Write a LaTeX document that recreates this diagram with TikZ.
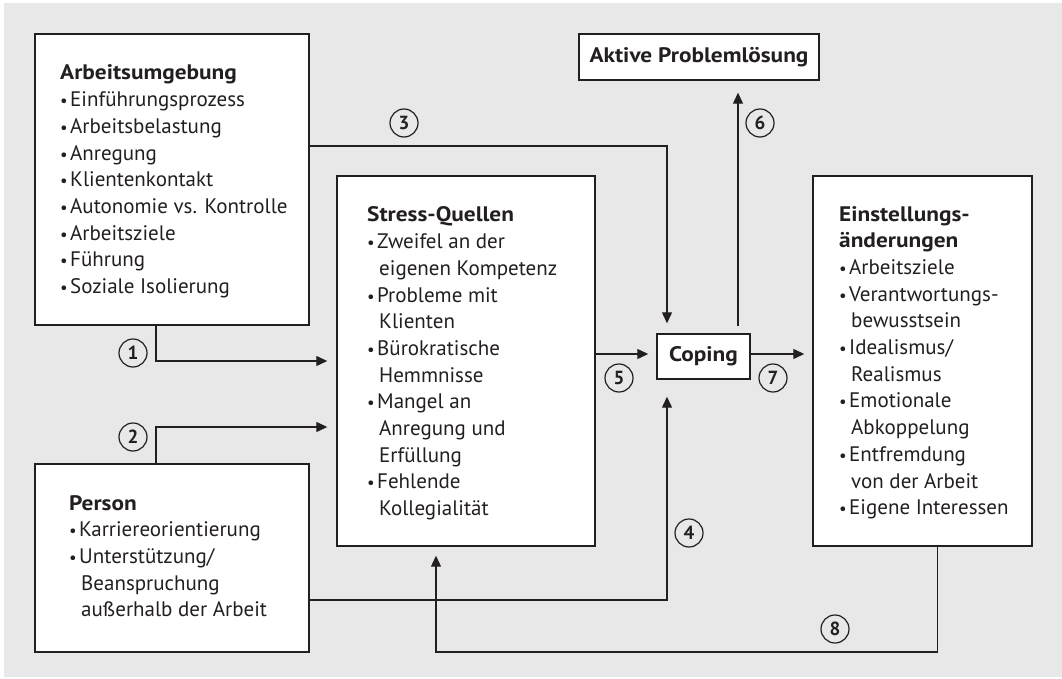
\documentclass[tikz,border=0pt]{standalone}
\usepackage{fontspec}
\setmainfont{PT Sans}
\usetikzlibrary{arrows.meta}
\definecolor{bg}{RGB}{232,232,232}
\definecolor{ink}{RGB}{35,31,32}
% bullet with fixed width, and the indent of continuation lines
\newcommand{\bul}{\makebox[10pt][l]{\scalebox{0.8}{•}}}
\newcommand{\cnt}{\hspace*{12pt}}
\newcommand{\blockfont}{\fontsize{21}{26.7}\selectfont}
% headings: bold, set a little wider
\newcommand{\hd}[1]{\scalebox{1.11}[1]{\bfseries #1}}

\begin{document}
\begin{tikzpicture}[x=1pt,y=-1pt,
  box/.style={draw=ink, line width=1.4pt, fill=white, inner sep=0pt},
  lbl/.style={anchor=base west, inner sep=0pt, text=ink, font=\blockfont},
  title/.style={font=\blockfont, text=ink},
  num/.style={circle, draw=ink, line width=1.2pt, minimum size=28pt, inner sep=0pt,
              font=\fontsize{19}{19}\selectfont\bfseries, text=ink},
  arr/.style={draw=ink, line width=1.2pt, -{Triangle[length=11pt,width=10pt]}}]

\useasboundingbox (0,0) rectangle (1062,679);
\fill[bg] (4,3) rectangle (1062,677);

% boxes
\node[box, minimum width=274pt, minimum height=291pt] (arb) at (172,179.5) {};
\node[box, minimum width=240pt, minimum height=46pt, title] (akt) at (699,57) {\hd{Aktive Problemlösung}};
\node[box, minimum width=258pt, minimum height=370pt] (str) at (466,361) {};
\node[box, minimum width=93pt, minimum height=45pt, title] (cop) at (703.5,356.5) {\hd{Coping}};
\node[box, minimum width=219pt, minimum height=370pt] (ein) at (922.5,361) {};
\node[box, minimum width=274pt, minimum height=188pt] (per) at (172,558) {};

% box texts
\node[lbl] (arbT) at (60,80) {\parbox[t]{240pt}{\raggedright
  \hd{Arbeitsumgebung}\\
  \bul Einführungsprozess\\
  \bul Arbeitsbelastung\\
  \bul Anregung\\
  \bul Klientenkontakt\\
  \bul Autonomie vs. Kontrolle\\
  \bul Arbeitsziele\\
  \bul Führung\\
  \bul Soziale Isolierung}};

\node[lbl] (strT) at (367,222) {\parbox[t]{220pt}{\raggedright
  \hd{Stress-Quellen}\\
  \bul Zweifel an der\\
  \cnt eigenen Kompetenz\\
  \bul Probleme mit\\
  \cnt Klienten\\
  \bul Bürokratische\\
  \cnt Hemmnisse\\
  \bul Mangel an\\
  \cnt Anregung und\\
  \cnt Erfüllung\\
  \bul Fehlende\\
  \cnt Kollegialität}};

\node[lbl] (einT) at (839,221) {\parbox[t]{190pt}{\raggedright
  \hd{Einstellungs-}\\
  \hd{änderungen}\\
  \bul Arbeitsziele\\
  \bul Verantwortungs-\\
  \cnt bewusstsein\\
  \bul Idealismus/\\
  \cnt Realismus\\
  \bul Emotionale\\
  \cnt Abkoppelung\\
  \bul Entfremdung\\
  \cnt von der Arbeit\\
  \bul Eigene Interessen}};

\node[lbl] (perT) at (69,510) {\parbox[t]{235pt}{\raggedright
  \hd{Person}\\
  \bul Karriereorientierung\\
  \bul Unterstützung/\\
  \cnt Beanspruchung\\
  \cnt außerhalb der Arbeit}};

% connector bend points
\coordinate (k1) at (156,361);
\coordinate (k2) at (156,427);
\coordinate (k3) at (667,146);
\coordinate (k4) at (667,600);
\coordinate (k5) at (0,354);
\coordinate (k6) at (738,0);
\coordinate (k8) at (937.5,652);
\coordinate (k8b) at (436,652);

% connectors
\draw[arr, shorten >=9pt] (arb.south -| k1) |- (str.west |- k1);
\draw[arr, shorten >=9pt] (per.north -| k2) |- (str.west |- k2);
\draw[arr, shorten >=10pt] (arb.east |- k3) -| (cop.north -| k3);
\draw[arr, shorten >=17pt] (per.east |- k4) -| (cop.south -| k4);
\draw[arr, shorten >=8pt] (str.east |- k5) -- (cop.west |- k5);
\draw[arr, shorten >=8pt] (cop.east |- k5) -- (ein.west |- k5);
\draw[arr, shorten <=7pt, shorten >=12pt] (cop.north -| k6) -- (akt.south -| k6);
\draw[arr, shorten >=9pt] (ein.south -| k8) |- (k8b) -- (str.south -| k8b);

% numbered markers
\node[num] (n1) at (133,353) {1};
\node[num] (n2) at (133,437) {2};
\node[num] (n3) at (404,123) {3};
\node[num] (n4) at (689,533) {4};
\node[num] (n5) at (619,378) {5};
\node[num] (n6) at (760,123) {6};
\node[num] (n7) at (773,378) {7};
\node[num] (n8) at (835,629) {8};
\end{tikzpicture}
\end{document}
